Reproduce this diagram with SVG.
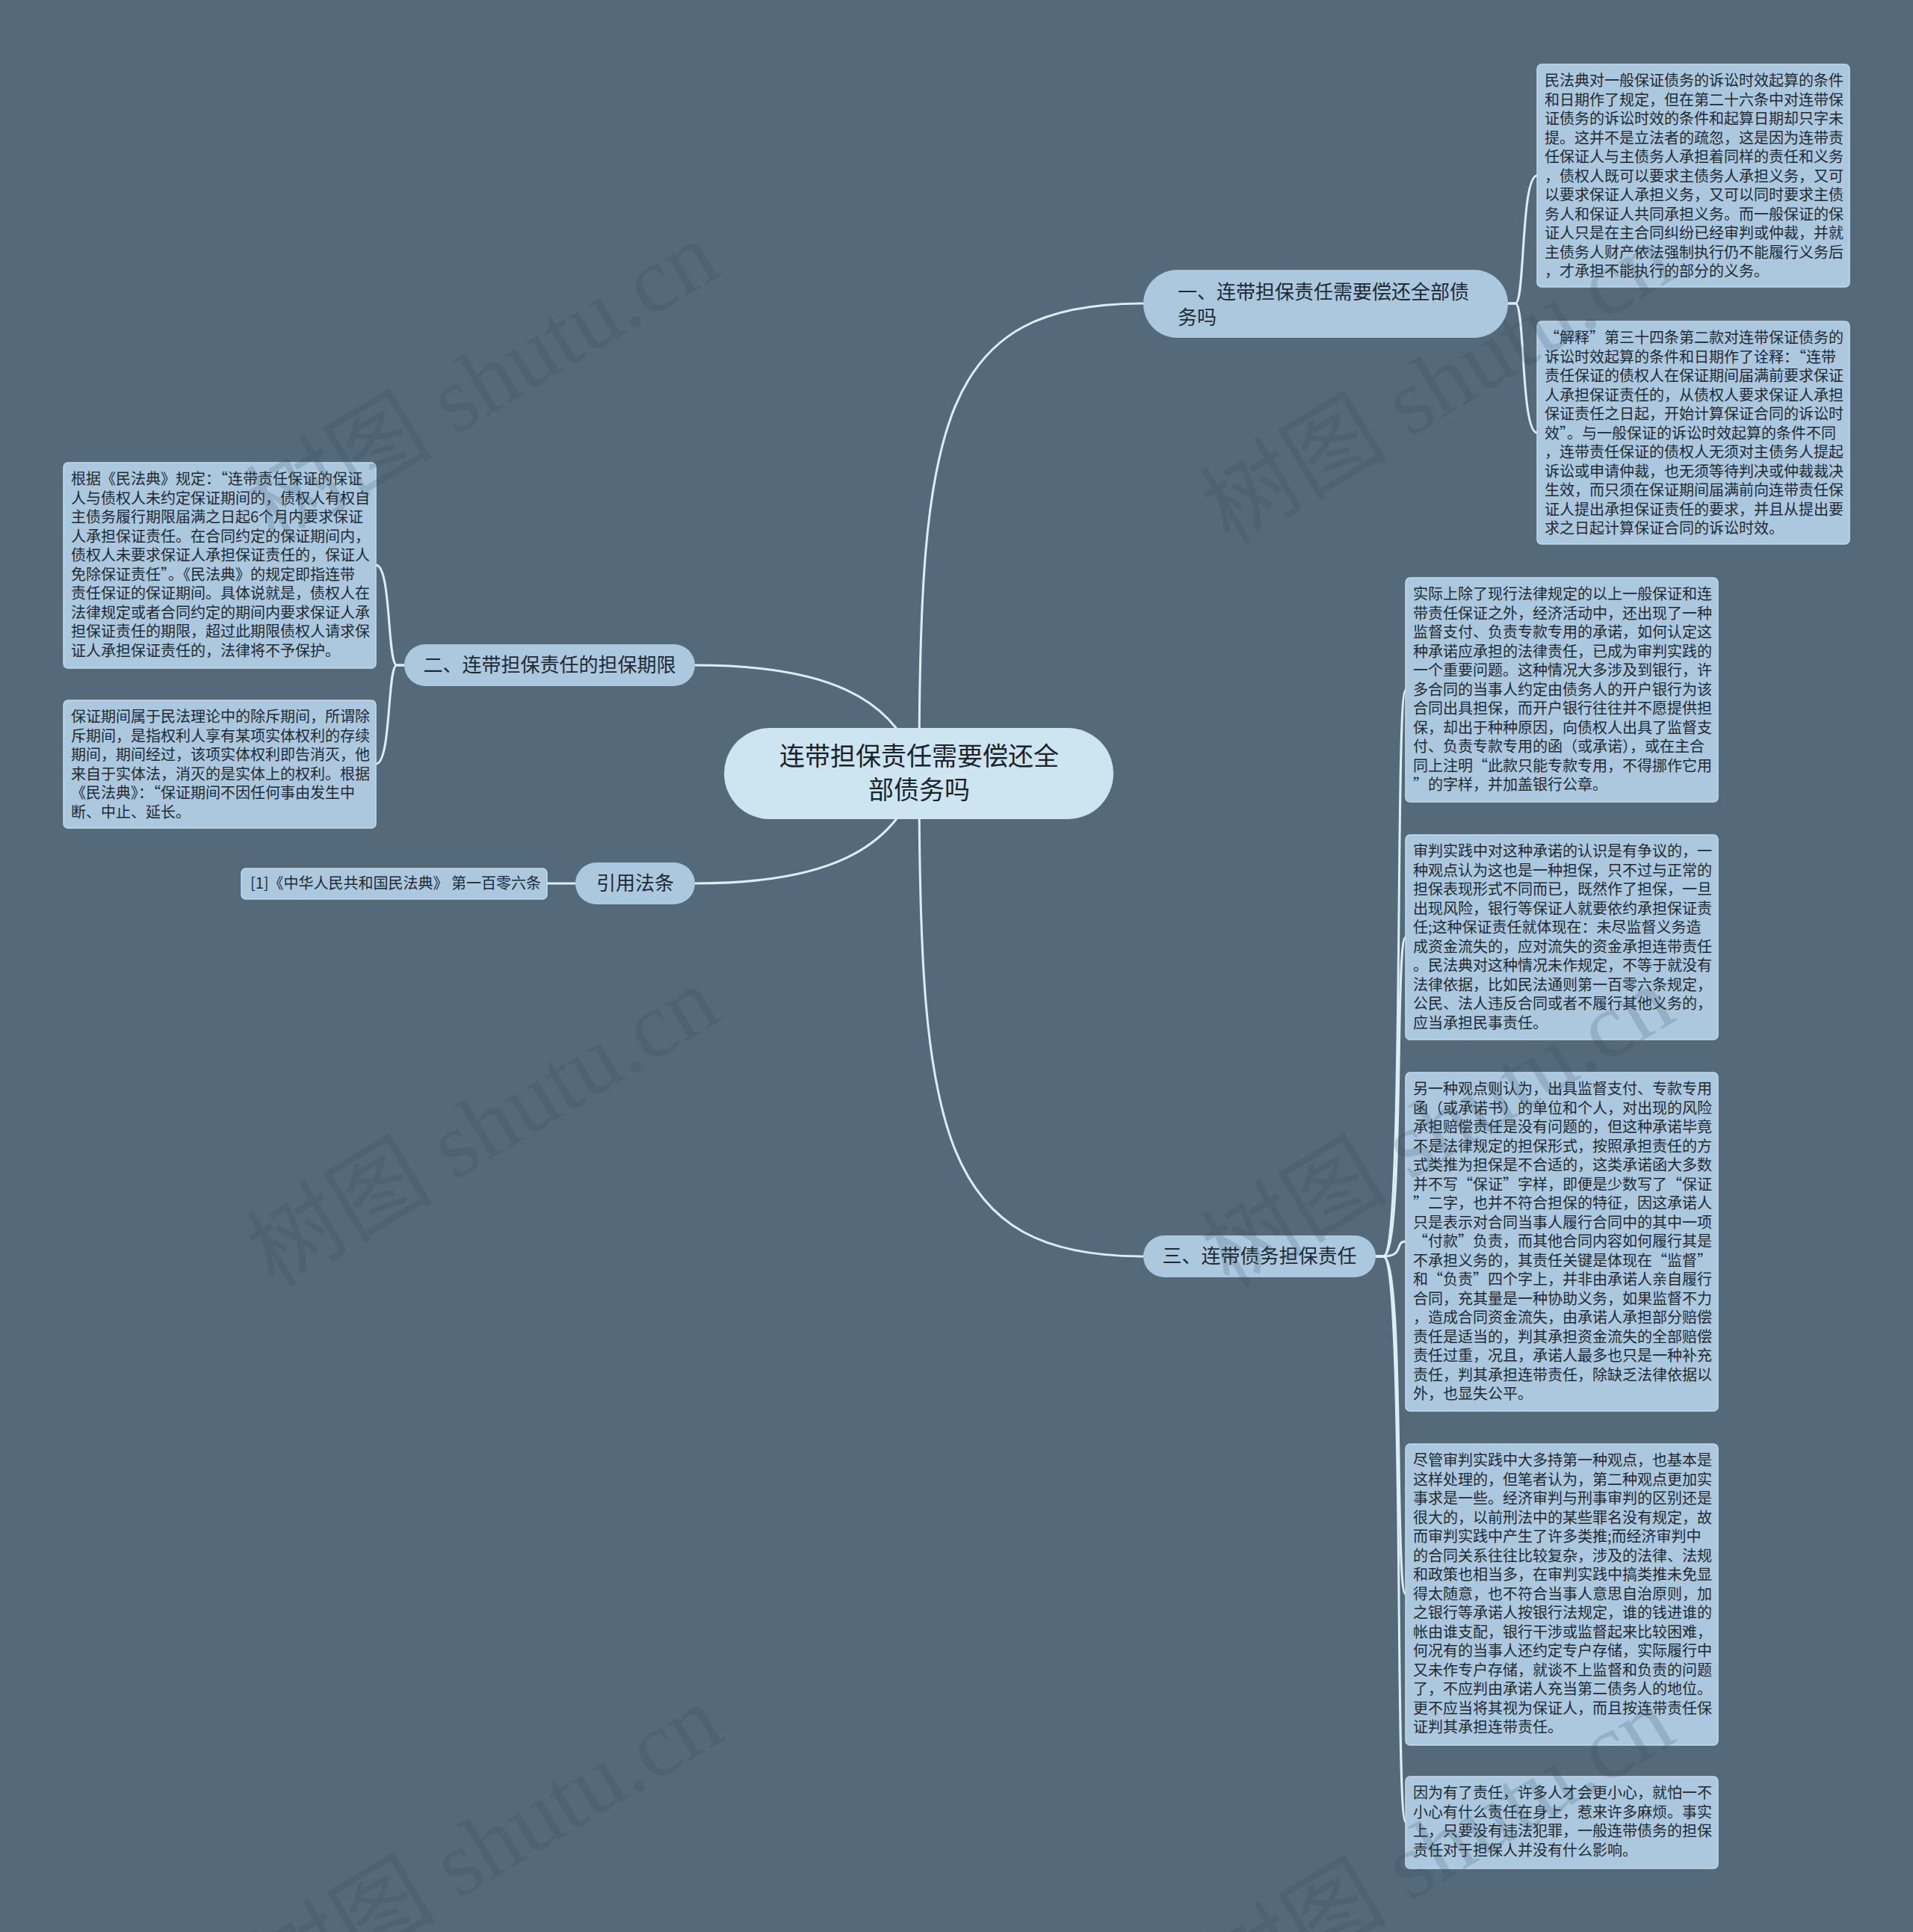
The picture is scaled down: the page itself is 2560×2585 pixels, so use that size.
<svg xmlns="http://www.w3.org/2000/svg" width="2560" height="2585" viewBox="0 0 2560 2585">
<style>
.bg{fill:#546a7a}
.conn path{fill:none;stroke:#dcedf6;stroke-width:3}
.leaf rect{fill:#abc8df;stroke:#c2d9ea;stroke-width:1.5}
.leaf text{font-family:"Noto Sans CJK SC","Noto Sans",sans-serif;font-size:20px;fill:#1f2a33}
.branch rect{fill:#abc8df}
.branch text{font-family:"Noto Sans CJK SC","Noto Sans",sans-serif;font-size:26px;fill:#1f2a33}
.root rect{fill:#cde4f1}
.root text{font-family:"Noto Sans CJK SC","Noto Sans",sans-serif;font-size:34px;fill:#1a232b;text-anchor:middle}
.wm{font-family:"Liberation Serif","Noto Sans CJK SC",serif;font-size:125px;fill:#33485a;opacity:0.18;text-anchor:middle;dominant-baseline:central}
</style>
<rect class="bg" x="0" y="0" width="2560" height="2585"/>

<g id="connectors" class="conn">
<path d="M1230 1035 C1230 560,1260 406,1530 406"/>
<path d="M1230 1035 C1230 1520,1260 1681,1530 1681"/>
<path d="M930 890 C1100 890,1200 930,1230 1035"/>
<path d="M930 1182 C1100 1182,1200 1140,1230 1035"/>
<path d="M770 1182 L732 1182"/>
<path d="M2018 406 L2028 406 C2041 406,2035 235,2057 235"/>
<path d="M2018 406 L2028 406 C2041 406,2035 579,2057 579"/>
<path d="M541 890 L531 890 C518 890,524 756,503 756"/>
<path d="M541 890 L531 890 C518 890,524 1022,503 1022"/>
<path d="M1841 1681 L1851 1681 C1880 1681,1866 923,1881 923"/>
<path d="M1841 1681 L1851 1681 C1880 1681,1866 1254,1881 1254"/>
<path d="M1841 1681 L1851 1681 C1880 1681,1866 1661,1881 1661"/>
<path d="M1841 1681 L1851 1681 C1880 1681,1866 2133,1881 2133"/>
<path d="M1841 1681 L1851 1681 C1880 1681,1866 2438,1881 2438"/>
</g>

<g id="root" class="root">
<rect x="969" y="974" width="521" height="122" rx="61"/>
<text x="1230" y="1024">连带担保责任需要偿还全</text>
<text x="1230" y="1069">部债务吗</text>
</g>

<g id="branch1" class="branch">
<rect x="1530" y="361" width="488" height="91" rx="45.5"/>
<text x="1576" y="400">一、连带担保责任需要偿还全部债</text>
<text x="1576" y="434">务吗</text>
</g>

<g id="branch2" class="branch">
<rect x="541" y="862" width="389" height="56" rx="28"/>
<text x="735.5" y="899" text-anchor="middle">二、连带担保责任的担保期限</text>
</g>

<g id="branch3" class="branch">
<rect x="1530" y="1653" width="311" height="56" rx="28"/>
<text x="1685.5" y="1690" text-anchor="middle">三、连带债务担保责任</text>
</g>

<g id="branch4" class="branch">
<rect x="770" y="1154" width="160" height="56" rx="28"/>
<text x="850" y="1191" text-anchor="middle">引用法条</text>
</g>

<g id="cite" class="leaf">
<rect x="323" y="1162" width="409" height="41" rx="6"/>
<text x="335" y="1189">[1]《中华人民共和国民法典》 第一百零六条</text>
</g>

<g id="leaf-tr1" class="leaf">
<rect x="2057" y="86" width="418" height="298" rx="6"/>
<text x="2067" y="115">民法典对一般保证债务的诉讼时效起算的条件</text>
<text x="2067" y="140.5">和日期作了规定，但在第二十六条中对连带保</text>
<text x="2067" y="166">证债务的诉讼时效的条件和起算日期却只字未</text>
<text x="2067" y="191.5">提。这并不是立法者的疏忽，这是因为连带责</text>
<text x="2067" y="217">任保证人与主债务人承担着同样的责任和义务</text>
<text x="2067" y="242.5">，债权人既可以要求主债务人承担义务，又可</text>
<text x="2067" y="268">以要求保证人承担义务，又可以同时要求主债</text>
<text x="2067" y="293.5">务人和保证人共同承担义务。而一般保证的保</text>
<text x="2067" y="319">证人只是在主合同纠纷已经审判或仲裁，并就</text>
<text x="2067" y="344.5">主债务人财产依法强制执行仍不能履行义务后</text>
<text x="2067" y="370">，才承担不能执行的部分的义务。</text>
</g>

<g id="leaf-tr2" class="leaf">
<rect x="2057" y="430" width="418" height="298" rx="6"/>
<text x="2067" y="459">“解释”第三十四条第二款对连带保证债务的</text>
<text x="2067" y="484.5">诉讼时效起算的条件和日期作了诠释：“连带</text>
<text x="2067" y="510">责任保证的债权人在保证期间届满前要求保证</text>
<text x="2067" y="535.5">人承担保证责任的，从债权人要求保证人承担</text>
<text x="2067" y="561">保证责任之日起，开始计算保证合同的诉讼时</text>
<text x="2067" y="586.5">效”。与一般保证的诉讼时效起算的条件不同</text>
<text x="2067" y="612">，连带责任保证的债权人无须对主债务人提起</text>
<text x="2067" y="637.5">诉讼或申请仲裁，也无须等待判决或仲裁裁决</text>
<text x="2067" y="663">生效，而只须在保证期间届满前向连带责任保</text>
<text x="2067" y="688.5">证人提出承担保证责任的要求，并且从提出要</text>
<text x="2067" y="714">求之日起计算保证合同的诉讼时效。</text>
</g>

<g id="leaf-l1" class="leaf">
<rect x="85" y="619" width="418" height="275" rx="6"/>
<text x="95" y="648">根据《民法典》规定：“连带责任保证的保证</text>
<text x="95" y="673.5">人与债权人未约定保证期间的，债权人有权自</text>
<text x="95" y="699">主债务履行期限届满之日起6个月内要求保证</text>
<text x="95" y="724.5">人承担保证责任。在合同约定的保证期间内，</text>
<text x="95" y="750">债权人未要求保证人承担保证责任的，保证人</text>
<text x="95" y="775.5">免除保证责任”。《民法典》的规定即指连带</text>
<text x="95" y="801">责任保证的保证期间。具体说就是，债权人在</text>
<text x="95" y="826.5">法律规定或者合同约定的期间内要求保证人承</text>
<text x="95" y="852">担保证责任的期限，超过此期限债权人请求保</text>
<text x="95" y="877.5">证人承担保证责任的，法律将不予保护。</text>
</g>

<g id="leaf-l2" class="leaf">
<rect x="85" y="937" width="418" height="171" rx="6"/>
<text x="95" y="966">保证期间属于民法理论中的除斥期间，所谓除</text>
<text x="95" y="991.5">斥期间，是指权利人享有某项实体权利的存续</text>
<text x="95" y="1017">期间，期间经过，该项实体权利即告消灭，他</text>
<text x="95" y="1042.5">来自于实体法，消灭的是实体上的权利。根据</text>
<text x="95" y="1068">《民法典》：“保证期间不因任何事由发生中</text>
<text x="95" y="1093.5">断、中止、延长。</text>
</g>

<g id="leaf-r1" class="leaf">
<rect x="1881" y="773" width="418" height="300" rx="6"/>
<text x="1891" y="802">实际上除了现行法律规定的以上一般保证和连</text>
<text x="1891" y="827.5">带责任保证之外，经济活动中，还出现了一种</text>
<text x="1891" y="853">监督支付、负责专款专用的承诺，如何认定这</text>
<text x="1891" y="878.5">种承诺应承担的法律责任，已成为审判实践的</text>
<text x="1891" y="904">一个重要问题。这种情况大多涉及到银行，许</text>
<text x="1891" y="929.5">多合同的当事人约定由债务人的开户银行为该</text>
<text x="1891" y="955">合同出具担保，而开户银行往往并不愿提供担</text>
<text x="1891" y="980.5">保，却出于种种原因，向债权人出具了监督支</text>
<text x="1891" y="1006">付、负责专款专用的函（或承诺），或在主合</text>
<text x="1891" y="1031.5">同上注明“此款只能专款专用，不得挪作它用</text>
<text x="1891" y="1057">”的字样，并加盖银行公章。</text>
</g>

<g id="leaf-r2" class="leaf">
<rect x="1881" y="1117" width="418" height="274" rx="6"/>
<text x="1891" y="1146">审判实践中对这种承诺的认识是有争议的，一</text>
<text x="1891" y="1171.5">种观点认为这也是一种担保，只不过与正常的</text>
<text x="1891" y="1197">担保表现形式不同而已，既然作了担保，一旦</text>
<text x="1891" y="1222.5">出现风险，银行等保证人就要依约承担保证责</text>
<text x="1891" y="1248">任;这种保证责任就体现在：未尽监督义务造</text>
<text x="1891" y="1273.5">成资金流失的，应对流失的资金承担连带责任</text>
<text x="1891" y="1299">。民法典对这种情况未作规定，不等于就没有</text>
<text x="1891" y="1324.5">法律依据，比如民法通则第一百零六条规定，</text>
<text x="1891" y="1350">公民、法人违反合同或者不履行其他义务的，</text>
<text x="1891" y="1375.5">应当承担民事责任。</text>
</g>

<g id="leaf-r3" class="leaf">
<rect x="1881" y="1435" width="418" height="453" rx="6"/>
<text x="1891" y="1464">另一种观点则认为，出具监督支付、专款专用</text>
<text x="1891" y="1489.5">函（或承诺书）的单位和个人，对出现的风险</text>
<text x="1891" y="1515">承担赔偿责任是没有问题的，但这种承诺毕竟</text>
<text x="1891" y="1540.5">不是法律规定的担保形式，按照承担责任的方</text>
<text x="1891" y="1566">式类推为担保是不合适的，这类承诺函大多数</text>
<text x="1891" y="1591.5">并不写“保证”字样，即便是少数写了“保证</text>
<text x="1891" y="1617">”二字，也并不符合担保的特征，因这承诺人</text>
<text x="1891" y="1642.5">只是表示对合同当事人履行合同中的其中一项</text>
<text x="1891" y="1668">“付款”负责，而其他合同内容如何履行其是</text>
<text x="1891" y="1693.5">不承担义务的，其责任关键是体现在“监督”</text>
<text x="1891" y="1719">和“负责”四个字上，并非由承诺人亲自履行</text>
<text x="1891" y="1744.5">合同，充其量是一种协助义务，如果监督不力</text>
<text x="1891" y="1770">，造成合同资金流失，由承诺人承担部分赔偿</text>
<text x="1891" y="1795.5">责任是适当的，判其承担资金流失的全部赔偿</text>
<text x="1891" y="1821">责任过重，况且，承诺人最多也只是一种补充</text>
<text x="1891" y="1846.5">责任，判其承担连带责任，除缺乏法律依据以</text>
<text x="1891" y="1872">外，也显失公平。</text>
</g>

<g id="leaf-r4" class="leaf">
<rect x="1881" y="1932" width="418" height="403" rx="6"/>
<text x="1891" y="1961">尽管审判实践中大多持第一种观点，也基本是</text>
<text x="1891" y="1986.5">这样处理的，但笔者认为，第二种观点更加实</text>
<text x="1891" y="2012">事求是一些。经济审判与刑事审判的区别还是</text>
<text x="1891" y="2037.5">很大的，以前刑法中的某些罪名没有规定，故</text>
<text x="1891" y="2063">而审判实践中产生了许多类推;而经济审判中</text>
<text x="1891" y="2088.5">的合同关系往往比较复杂，涉及的法律、法规</text>
<text x="1891" y="2114">和政策也相当多，在审判实践中搞类推未免显</text>
<text x="1891" y="2139.5">得太随意，也不符合当事人意思自治原则，加</text>
<text x="1891" y="2165">之银行等承诺人按银行法规定，谁的钱进谁的</text>
<text x="1891" y="2190.5">帐由谁支配，银行干涉或监督起来比较困难，</text>
<text x="1891" y="2216">何况有的当事人还约定专户存储，实际履行中</text>
<text x="1891" y="2241.5">又未作专户存储，就谈不上监督和负责的问题</text>
<text x="1891" y="2267">了，不应判由承诺人充当第二债务人的地位。</text>
<text x="1891" y="2292.5">更不应当将其视为保证人，而且按连带责任保</text>
<text x="1891" y="2318">证判其承担连带责任。</text>
</g>

<g id="leaf-r5" class="leaf">
<rect x="1881" y="2377" width="418" height="123" rx="6"/>
<text x="1891" y="2406">因为有了责任，许多人才会更小心，就怕一不</text>
<text x="1891" y="2431.5">小心有什么责任在身上，惹来许多麻烦。事实</text>
<text x="1891" y="2457">上，只要没有违法犯罪，一般连带债务的担保</text>
<text x="1891" y="2482.5">责任对于担保人并没有什么影响。</text>
</g>

<g id="watermark">
<text class="wm" transform="translate(646 511) rotate(-31)">树图 shutu.cn</text>
<text class="wm" transform="translate(1924 514) rotate(-31)">树图 shutu.cn</text>
<text class="wm" transform="translate(646 1508) rotate(-31)">树图 shutu.cn</text>
<text class="wm" transform="translate(1924 1508) rotate(-31)">树图 shutu.cn</text>
<text class="wm" transform="translate(651 2470) rotate(-31)">树图 shutu.cn</text>
<text class="wm" transform="translate(1924 2473) rotate(-31)">树图 shutu.cn</text>
</g>
</svg>
